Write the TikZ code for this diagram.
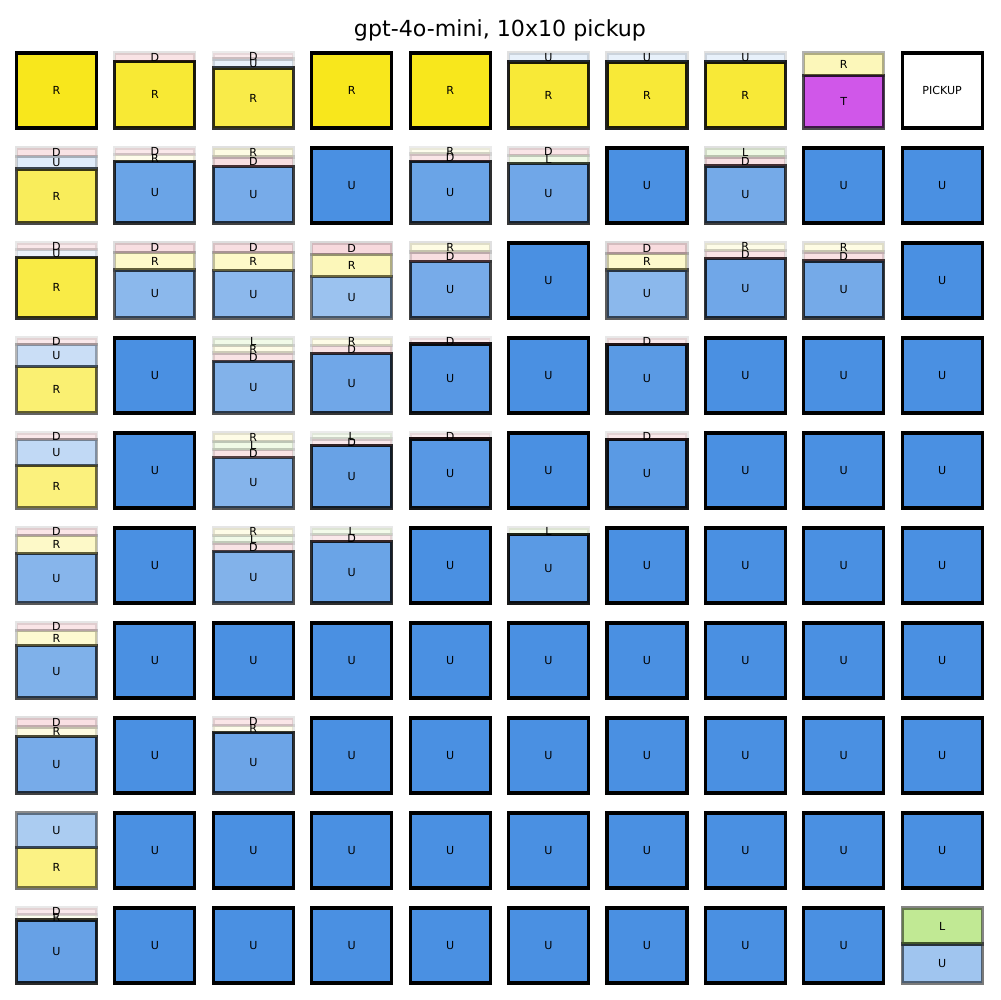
\documentclass[tikz,border=0pt]{standalone}
\usepackage{fontspec}
\setmainfont{DejaVu Sans}
\definecolor{cU}{HTML}{4A90E2}
\definecolor{cR}{HTML}{F8E71C}
\definecolor{cD}{HTML}{D0021B}
\definecolor{cL}{HTML}{7ED321}
\definecolor{cT}{HTML}{BD10E0}
\tikzset{
  segbox/.style={line width=2.3pt, draw=black},
  seglabel/.style={font=\fontsize{8}{9}\selectfont, inner sep=0pt, text=black},
  titlelabel/.style={font=\fontsize{16}{19}\selectfont, inner sep=0pt, text=black}
}
\newcommand\gcell[3]{%
  \pgfmathsetmacro\cx{16.5+98.4*#1}%
  \pgfmathsetmacro\cb{128+95*#2}%
  \xdef\cacc{\cb}%
  \foreach \a/\p [count=\i] in {#3} {%
    \pgfmathsetmacro\ytop{\cacc-75*\p}%
    \path[segbox, fill=c\a, fill opacity=\p, draw opacity=\p]
      (\cx,\cacc) rectangle (\cx+80,\ytop);
    \node[seglabel] (n#2-#1-\i) at (\cx+40,{(\cacc+\ytop)/2}) {\a};
    \xdef\cacc{\ytop}%
  }%
}
\begin{document}
\begin{tikzpicture}[x=0.01in,y=-0.01in]
\useasboundingbox (0,0) rectangle (1000,1000);
\fill[white] (0,0) rectangle (1000,1000);
\node[titlelabel, anchor=base] (title) at (500,36.5) {gpt-4o-mini, 10x10 pickup};
% row 0
\gcell{0}{0}{R/1}
\gcell{1}{0}{R/0.89, D/0.11}
\gcell{2}{0}{R/0.80, U/0.12, D/0.08}
\gcell{3}{0}{R/1}
\gcell{4}{0}{R/1}
\gcell{5}{0}{R/0.88, U/0.12}
\gcell{6}{0}{R/0.88, U/0.12}
\gcell{7}{0}{R/0.88, U/0.12}
\gcell{8}{0}{T/0.70, R/0.30}
\draw[segbox, fill=white] (902.1,128) rectangle (982.1,53);
\node[seglabel] (pickup) at (942.1,90.5) {PICKUP};
% row 1
\gcell{0}{1}{R/0.72, U/0.17, D/0.11}
\gcell{1}{1}{U/0.82, R/0.09, D/0.09}
\gcell{2}{1}{U/0.75, D/0.13, R/0.12}
\gcell{3}{1}{U/1}
\gcell{4}{1}{U/0.82, D/0.10, R/0.08}
\gcell{5}{1}{U/0.79, L/0.11, D/0.10}
\gcell{6}{1}{U/1}
\gcell{7}{1}{U/0.76, D/0.12, L/0.12}
\gcell{8}{1}{U/1}
\gcell{9}{1}{U/1}
% row 2
\gcell{0}{2}{R/0.81, U/0.10, D/0.09}
\gcell{1}{2}{U/0.64, R/0.23, D/0.13}
\gcell{2}{2}{U/0.63, R/0.24, D/0.13}
\gcell{3}{2}{U/0.55, R/0.30, D/0.15}
\gcell{4}{2}{U/0.75, D/0.13, R/0.12}
\gcell{5}{2}{U/1}
\gcell{6}{2}{U/0.64, R/0.22, D/0.14}
\gcell{7}{2}{U/0.79, D/0.11, R/0.10}
\gcell{8}{2}{U/0.76, D/0.12, R/0.12}
\gcell{9}{2}{U/1}
% row 3
\gcell{0}{3}{R/0.62, U/0.29, D/0.09}
\gcell{1}{3}{U/1}
\gcell{2}{3}{U/0.69, D/0.11, R/0.10, L/0.10}
\gcell{3}{3}{U/0.79, D/0.11, R/0.10}
\gcell{4}{3}{U/0.92, D/0.08}
\gcell{5}{3}{U/1}
\gcell{6}{3}{U/0.91, D/0.09}
\gcell{7}{3}{U/1}
\gcell{8}{3}{U/1}
\gcell{9}{3}{U/1}
% row 4
\gcell{0}{4}{R/0.57, U/0.34, D/0.09}
\gcell{1}{4}{U/1}
\gcell{2}{4}{U/0.67, D/0.11, L/0.11, R/0.11}
\gcell{3}{4}{U/0.83, D/0.09, L/0.08}
\gcell{4}{4}{U/0.92, D/0.08}
\gcell{5}{4}{U/1}
\gcell{6}{4}{U/0.91, D/0.09}
\gcell{7}{4}{U/1}
\gcell{8}{4}{U/1}
\gcell{9}{4}{U/1}
% row 5
\gcell{0}{5}{U/0.66, R/0.24, D/0.10}
\gcell{1}{5}{U/1}
\gcell{2}{5}{U/0.69, D/0.11, L/0.10, R/0.10}
\gcell{3}{5}{U/0.82, D/0.09, L/0.09}
\gcell{4}{5}{U/1}
\gcell{5}{5}{U/0.91, L/0.09}
\gcell{6}{5}{U/1}
\gcell{7}{5}{U/1}
\gcell{8}{5}{U/1}
\gcell{9}{5}{U/1}
% row 6
\gcell{0}{6}{U/0.70, R/0.20, D/0.10}
\foreach \c in {1,...,9} {\gcell{\c}{6}{U/1}}
% row 7
\gcell{0}{7}{U/0.75, R/0.13, D/0.12}
\gcell{1}{7}{U/1}
\gcell{2}{7}{U/0.81, R/0.09, D/0.10}
\foreach \c in {3,...,9} {\gcell{\c}{7}{U/1}}
% row 8
\gcell{0}{8}{R/0.54, U/0.46}
\foreach \c in {1,...,9} {\gcell{\c}{8}{U/1}}
% row 9
\gcell{0}{9}{U/0.84, R/0.07, D/0.09}
\foreach \c in {1,...,8} {\gcell{\c}{9}{U/1}}
\gcell{9}{9}{U/0.52, L/0.48}
\end{tikzpicture}
\end{document}
